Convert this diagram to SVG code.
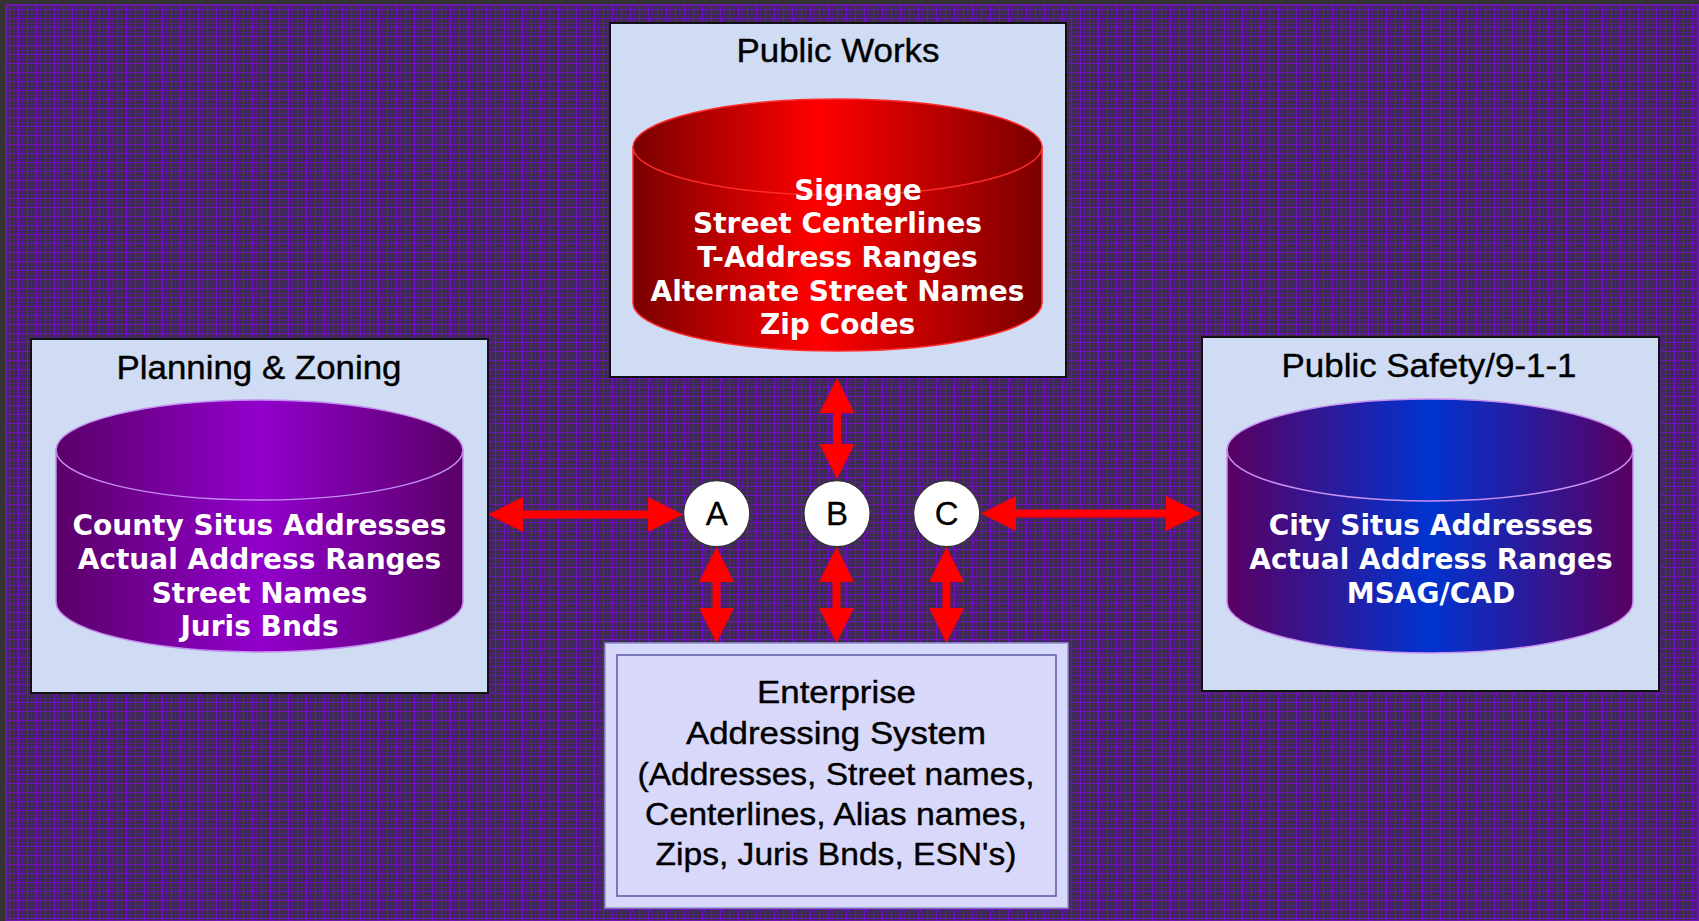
<svg xmlns="http://www.w3.org/2000/svg" width="1699" height="921" viewBox="0 0 1699 921">
<style>
.box{fill:#d0dcf3;stroke:#111;stroke-width:2}
.title{font-family:"Liberation Sans",Arial,sans-serif;font-size:33px;fill:#000;stroke:#000;stroke-width:0.4;text-anchor:middle}
.db{font-family:"DejaVu Sans",Verdana,sans-serif;font-weight:bold;font-size:28px;fill:#fff;text-anchor:middle}
.eas{font-family:"Liberation Sans",Arial,sans-serif;font-size:31px;fill:#000;stroke:#000;stroke-width:0.4;text-anchor:middle}
.arrow{fill:#ff0000}
.circ{fill:#fff;stroke:#333;stroke-width:1.2}
.lbl{font-family:"Liberation Sans",Arial,sans-serif;font-size:33px;fill:#000;stroke:#000;stroke-width:0.3;text-anchor:middle}
</style>
<defs>
<pattern id="plaid" width="9" height="9" patternUnits="userSpaceOnUse">
<rect width="9" height="9" fill="#3d2b4d"/>
<rect x="0" y="0" width="1" height="9" fill="#7312c4"/>
<rect x="0" y="0" width="9" height="1" fill="#7312c4"/>
<rect x="4" y="0" width="1" height="9" fill="#5a1c92" opacity="0.8"/>
<rect x="0" y="5" width="9" height="1" fill="#5a1c92" opacity="0.8"/>
<rect x="2" y="2" width="1" height="1" fill="#6a18b0"/>
<rect x="7" y="7" width="1" height="1" fill="#6a18b0"/>
</pattern>
<linearGradient id="gRed" x1="0" y1="0" x2="1" y2="0">
<stop offset="0" stop-color="#7a0000"/>
<stop offset="0.45" stop-color="#ff0000"/>
<stop offset="1" stop-color="#7a0000"/>
</linearGradient>
<linearGradient id="gPurple" x1="0" y1="0" x2="1" y2="0">
<stop offset="0" stop-color="#5a0068"/>
<stop offset="0.5" stop-color="#9200cc"/>
<stop offset="1" stop-color="#5a0068"/>
</linearGradient>
<linearGradient id="gBlue" x1="0" y1="0" x2="1" y2="0">
<stop offset="0" stop-color="#5a0062"/>
<stop offset="0.5" stop-color="#0033d0"/>
<stop offset="1" stop-color="#5a0062"/>
</linearGradient>
</defs>

<rect width="1699" height="921" fill="#333333"/>
<rect x="6" y="5" width="1693" height="916" fill="url(#plaid)"/>
<rect x="6" y="5" width="1693" height="916" fill="none" stroke="#7a14c8" stroke-width="1.5"/>

<g id="connectors">
<polygon class="arrow" points="488,514.5 523,497 523,510.5 648,510.5 648,497 683,514.5 648,532 648,518.5 523,518.5 523,532"/>
<polygon class="arrow" points="981,513.5 1016,496 1016,509.5 1166,509.5 1166,496 1201,513.5 1166,531 1166,517.5 1016,517.5 1016,531"/>
<polygon class="arrow" points="837,378 854.5,413 841,413 841,444 854.5,444 837,479 819.5,444 833,444 833,413 819.5,413"/>
<polygon class="arrow" points="716.5,547 734,582 720.5,582 720.5,608 734,608 716.5,643 699,608 712.5,608 712.5,582 699,582"/>
<polygon class="arrow" points="836.5,547 854,582 840.5,582 840.5,608 854,608 836.5,643 819,608 832.5,608 832.5,582 819,582"/>
<polygon class="arrow" points="946.5,547 964,582 950.5,582 950.5,608 964,608 946.5,643 929,608 942.5,608 942.5,582 929,582"/>
</g>

<g id="public-works">
<rect class="box" x="610" y="23" width="456" height="354"/>
<text class="title" x="838" y="62" textLength="203" lengthAdjust="spacingAndGlyphs">Public Works</text>
<path d="M633,147 V303 A204.5,48 0 0 0 1042,303 V147 Z" fill="url(#gRed)" stroke="#ff2a2a" stroke-width="1.5"/>
<ellipse cx="837.5" cy="147" rx="204.5" ry="48" fill="url(#gRed)" stroke="#ff2a2a" stroke-width="1.5"/>
<text class="db" x="858" y="200">Signage</text>
<text class="db" x="837.5" y="233">Street Centerlines</text>
<text class="db" x="837.5" y="267">T-Address Ranges</text>
<text class="db" x="837.5" y="301">Alternate Street Names</text>
<text class="db" x="837.5" y="334">Zip Codes</text>
</g>

<g id="planning-zoning">
<rect class="box" x="31" y="339" width="457" height="354"/>
<text class="title" x="259" y="379" textLength="285" lengthAdjust="spacingAndGlyphs">Planning &amp; Zoning</text>
<path d="M56,450 V602 A203.5,50 0 0 0 463,602 V450 Z" fill="url(#gPurple)" stroke="#c48cf0" stroke-width="1.5"/>
<ellipse cx="259.5" cy="450" rx="203.5" ry="50" fill="url(#gPurple)" stroke="#c48cf0" stroke-width="1.5"/>
<text class="db" x="259.5" y="535">County Situs Addresses</text>
<text class="db" x="259.5" y="569">Actual Address Ranges</text>
<text class="db" x="259.5" y="603">Street Names</text>
<text class="db" x="259.5" y="636">Juris Bnds</text>
</g>

<g id="public-safety">
<rect class="box" x="1202" y="337" width="457" height="354"/>
<text class="title" x="1429" y="377" textLength="295" lengthAdjust="spacingAndGlyphs">Public Safety/9-1-1</text>
<path d="M1227,450 V602 A203,51 0 0 0 1633,602 V450 Z" fill="url(#gBlue)" stroke="#c890f0" stroke-width="1.5"/>
<ellipse cx="1430" cy="450" rx="203" ry="51" fill="url(#gBlue)" stroke="#c890f0" stroke-width="1.5"/>
<text class="db" x="1431" y="535">City Situs Addresses</text>
<text class="db" x="1431" y="569">Actual Address Ranges</text>
<text class="db" x="1431" y="603">MSAG/CAD</text>
</g>

<g id="enterprise">
<rect x="605" y="643" width="463" height="265" fill="#d8d8fa" stroke="#9090d0" stroke-width="1.5"/>
<rect x="617" y="655" width="439" height="241" fill="#d8d8fa" stroke="#5858a8" stroke-width="1.5"/>
<text class="eas" x="836.5" y="703" textLength="159" lengthAdjust="spacingAndGlyphs">Enterprise</text>
<text class="eas" x="836" y="744" textLength="300" lengthAdjust="spacingAndGlyphs">Addressing System</text>
<text class="eas" x="836" y="785" textLength="397" lengthAdjust="spacingAndGlyphs">(Addresses, Street names,</text>
<text class="eas" x="836" y="825" textLength="382" lengthAdjust="spacingAndGlyphs">Centerlines, Alias names,</text>
<text class="eas" x="836" y="865" textLength="361" lengthAdjust="spacingAndGlyphs">Zips, Juris Bnds, ESN's)</text>
</g>

<g id="node-a">
<circle class="circ" cx="716.7" cy="513.7" r="33"/>
<text class="lbl" x="716.7" y="525">A</text>
</g>
<g id="node-b">
<circle class="circ" cx="837" cy="513.7" r="33"/>
<text class="lbl" x="837" y="525">B</text>
</g>
<g id="node-c">
<circle class="circ" cx="946.7" cy="513.7" r="33"/>
<text class="lbl" x="946.7" y="525">C</text>
</g>
</svg>
